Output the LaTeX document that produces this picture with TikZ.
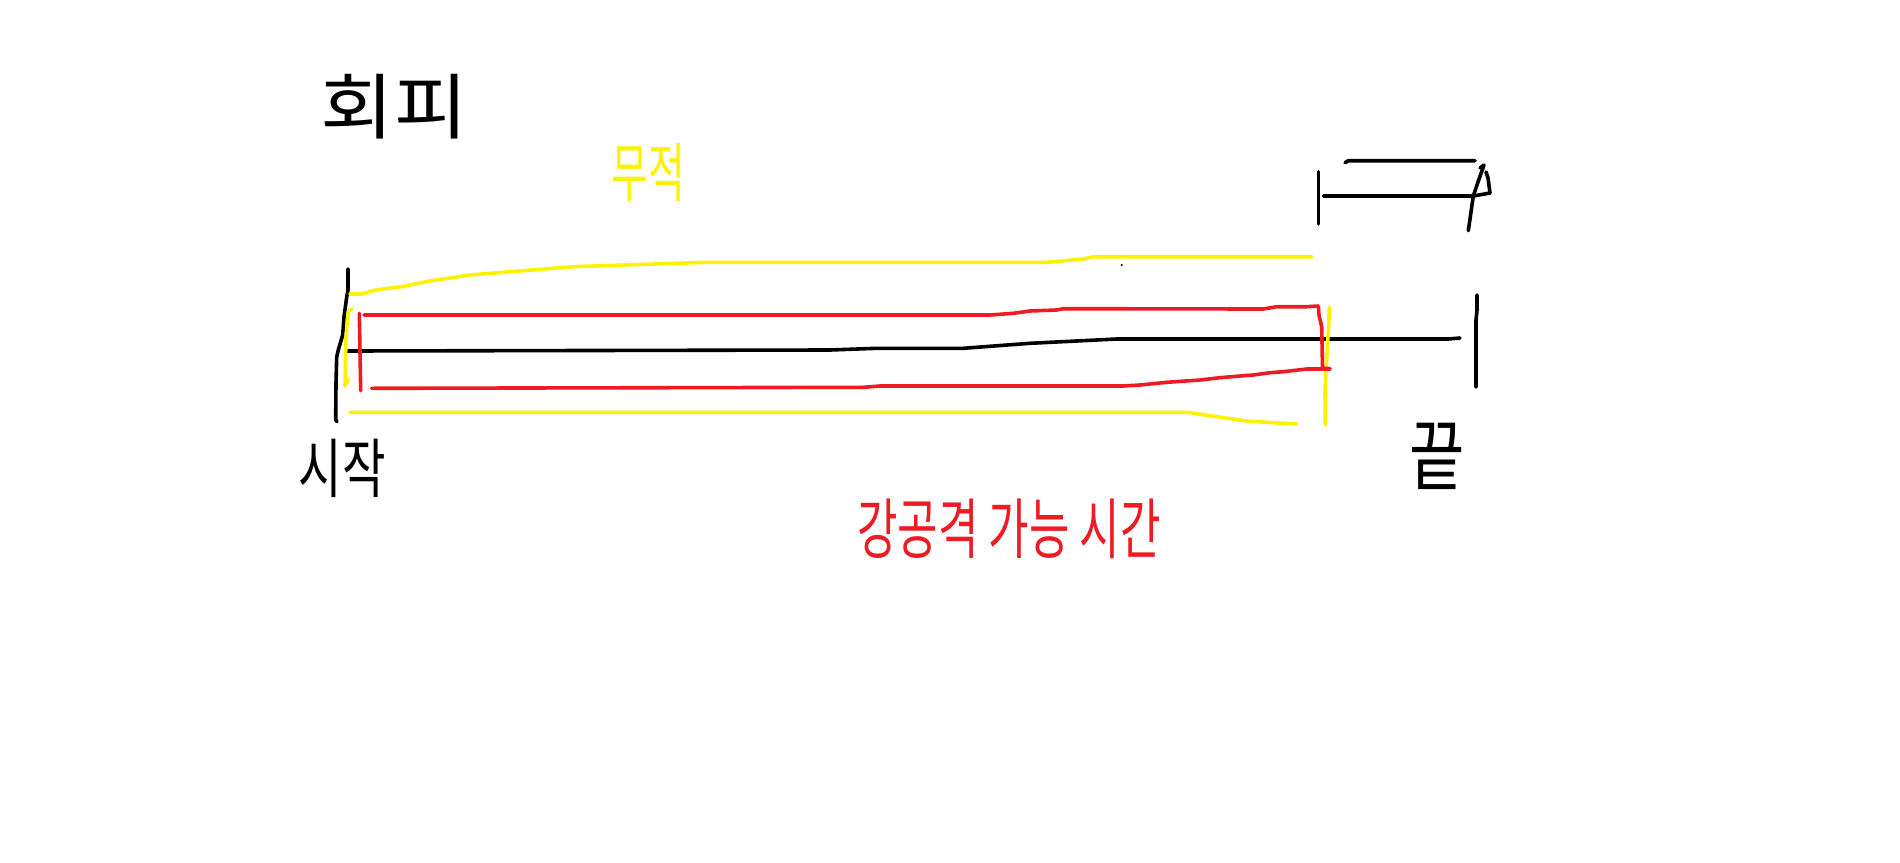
\documentclass[tikz,border=0pt]{standalone}
\usepackage{graphicx}
\usepackage{fontspec}
\setmainfont{Noto Sans CJK KR}
\newcommand\myfs[1]{\fontsize{#1}{#1}\selectfont}
\definecolor{pyellow}{RGB}{255,242,0}
\definecolor{pred}{RGB}{237,28,36}
\begin{document}
\begin{tikzpicture}[x=1pt,y=-1pt,
  stroke/.style={line width=3.6pt,line cap=round,line join=round},
  lbl/.style={inner sep=0pt,anchor=center}]
\useasboundingbox[fill=white] (0,0) rectangle (1900,862);
% texts
\node[lbl,text=black] (hoepi) at (394,107) {\scalebox{1.25}[1.12]{\myfs{64}회피}};
\node[lbl,text=pyellow] (mujeok) at (648,173) {\scalebox{1}[1.6]{\myfs{40}무적}};
\node[lbl,text=black] (sijak) at (342,468) {\scalebox{1.1}[1.5]{\myfs{43}시작}};
\node[lbl,text=black] (kkeut) at (1437,456) {\scalebox{1.2}[1.55]{\myfs{50}끝}};
\node[lbl,text=pred] (ganggong) at (1009,529) {\scalebox{1}[1.5]{\myfs{44}강공격 가능 시간}};
% black timeline
\draw[stroke,black] (346.7,351) -- (830,350) -- (876.7,348.3) -- (963.3,348.3) -- (1030,343.3) -- (1116.7,339) -- (1448,339) -- (1460,338);
\draw[stroke,black] (348,269) -- (348,290) -- (346.7,297) -- (344,317) -- (342.7,335) -- (338.3,350) -- (336.7,357) -- (336,383) -- (335.7,420) -- (337,421.7);
\draw[stroke,black] (1477,295) -- (1477,310) -- (1476,320) -- (1476,387);
% yellow
\draw[stroke,pyellow] (350,294) -- (361.7,294) -- (373,290.7) -- (383,289) -- (401.7,286.7) -- (430,281) -- (470,275) -- (573,266.7) -- (706.7,262.3) -- (1046.7,262.3) -- (1083.3,259) -- (1093.3,256.7) -- (1311.7,256.7);
\draw[stroke,pyellow] (351.7,309.3) -- (348.3,311.7) -- (346,336.7) -- (345,386) -- (348.3,379);
\draw[stroke,pyellow] (350,412.3) -- (1188.3,412.3) -- (1200,414.3) -- (1246.7,421) -- (1273.3,422.7) -- (1296.7,424);
\draw[stroke,pyellow] (1329.3,307.3) -- (1328.7,326.7) -- (1327.7,340) -- (1326,370) -- (1325,393.3) -- (1325.3,425);
% red
\draw[stroke,pred] (359.3,313.3) -- (360.7,390.7);
\draw[stroke,pred] (364,315) -- (990,315) -- (1013.3,313.3) -- (1030,311) -- (1056.7,310) -- (1063.3,308.7) -- (1263.3,309) -- (1276.7,306.7) -- (1306.7,306.7) -- (1318.3,306) -- (1319,315) -- (1321.7,326.7) -- (1322.5,368.3) -- (1330,368.6);
\draw[stroke,pred] (371.7,388.3) -- (863.3,387.3) -- (880,386) -- (1123.3,386) -- (1140,385) -- (1166.7,382.3) -- (1200,380) -- (1220,377.7) -- (1240,376) -- (1253.3,375) -- (1270,372.7) -- (1283.3,371.7) -- (1306.7,369) -- (1330,369);
% top-right mark
\draw[stroke,black] (1318.3,171.7) -- (1318.3,224);
\draw[stroke,black] (1345,162.7) -- (1348.3,160.7) -- (1475,160.7);
\draw[stroke,black] (1323.3,196) -- (1473.3,196) -- (1490,193);
\draw[stroke,black] (1490,193) -- (1488,178) -- (1486,172);
\draw[stroke,black] (1480,168) -- (1484,165) -- (1478,182) -- (1473.3,196) -- (1468.3,230.7);
% tiny dot
\fill[black] (1121.7,265) circle (1.2);
\end{tikzpicture}
\end{document}
